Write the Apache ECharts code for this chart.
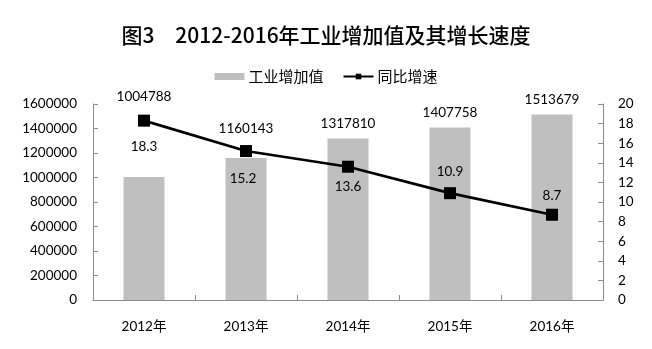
<!DOCTYPE html>
<html>
<head>
<meta charset="utf-8">
<script src="https://cdn.jsdelivr.net/npm/echarts@6/dist/echarts.min.js"></script>
<style>
html,body{margin:0;padding:0;background:#fff;}
#chart{width:652px;height:349px;}
</style>
</head>
<body>
<div id="chart"></div>
<script>
// ---- data ----
var categories = ['2012年', '2013年', '2014年', '2015年', '2016年'];
var industryValue = [1004788, 1160143, 1317810, 1407758, 1513679];
var growthRate = [18.3, 15.2, 13.6, 10.9, 8.7];
var leftTicks = { min: 0, max: 1600000, interval: 200000 };
var rightTicks = { min: 0, max: 20, interval: 2 };

// ---- label placement (styling only) ----
var barLabelShift = [[0, -66], [0, -14], [0, 0], [0, 0], [0, 0]];
var lineLabelShift = [[0, 26], [-3, 28], [0, 20], [0, -22], [0, -19]];

var numFont = 'Lato, "Noto Sans CJK SC", sans-serif';
var cjkFont = '"Noto Sans CJK SC", sans-serif';

var chart = echarts.init(document.getElementById('chart'), null, { renderer: 'canvas' });

var barData = industryValue.map(function (v, i) {
  return { value: v, label: { offset: barLabelShift[i] } };
});
var lineData = growthRate.map(function (v, i) {
  return { value: v, label: { offset: lineLabelShift[i] } };
});

var axisLineStyle = { lineStyle: { color: '#8c8c8c', width: 1 } };

chart.setOption({
  animation: false,
  backgroundColor: '#fff',
  title: {
    text: '图3　2012-2016年工业增加值及其增长速度',
    left: 'center',
    top: 20,
    textStyle: { fontFamily: cjkFont, fontSize: 21, fontWeight: 500, color: '#000' }
  },
  legend: {
    top: 64,
    left: 'center',
    itemGap: 19,
    itemWidth: 30,
    itemHeight: 7,
    textStyle: { fontFamily: cjkFont, fontSize: 15, color: '#000', padding: [0, 0, 0, -1] },
    data: [
      { name: '工业增加值', icon: 'rect' },
      { name: '同比增速' }
    ]
  },
  grid: { left: 93, right: 49, top: 104, bottom: 49, containLabel: false },
  xAxis: {
    type: 'category',
    data: categories,
    axisLine: axisLineStyle,
    axisTick: { show: true, inside: true, length: 5, alignWithLabel: false, lineStyle: { color: '#8c8c8c' } },
    axisLabel: { fontFamily: numFont, fontSize: 13.5, color: '#000', margin: 20 }
  },
  yAxis: [
    {
      type: 'value',
      min: leftTicks.min, max: leftTicks.max, interval: leftTicks.interval,
      axisLine: { show: true, lineStyle: { color: '#8c8c8c' } },
      axisTick: { show: true, inside: true, length: 5, lineStyle: { color: '#8c8c8c' } },
      splitLine: { show: false },
      axisLabel: {
        fontFamily: numFont, fontSize: 13.5, color: '#000', margin: 16,
        formatter: function (v) { return String(v); }
      }
    },
    {
      type: 'value',
      min: rightTicks.min, max: rightTicks.max, interval: rightTicks.interval,
      position: 'right',
      axisLine: { show: true, lineStyle: { color: '#8c8c8c' } },
      axisTick: { show: true, inside: true, length: 5, lineStyle: { color: '#8c8c8c' } },
      splitLine: { show: false },
      axisLabel: { fontFamily: numFont, fontSize: 13.5, color: '#000', margin: 15 }
    }
  ],
  series: [
    {
      name: '工业增加值',
      type: 'bar',
      yAxisIndex: 0,
      data: barData,
      barWidth: 41,
      itemStyle: { color: '#bfbfbf' },
      label: {
        show: true, position: 'top', distance: 8,
        fontFamily: numFont, fontSize: 13.5, color: '#000'
      },
      z: 1
    },
    {
      name: '同比增速',
      type: 'line',
      yAxisIndex: 1,
      data: lineData,
      symbol: 'rect',
      symbolSize: 12,
      lineStyle: { color: '#000', width: 2.7 },
      itemStyle: { color: '#000' },
      label: {
        show: true, position: 'inside',
        fontFamily: numFont, fontSize: 13.5, color: '#000'
      },
      z: 3
    }
  ]
});
</script>
</body>
</html>
